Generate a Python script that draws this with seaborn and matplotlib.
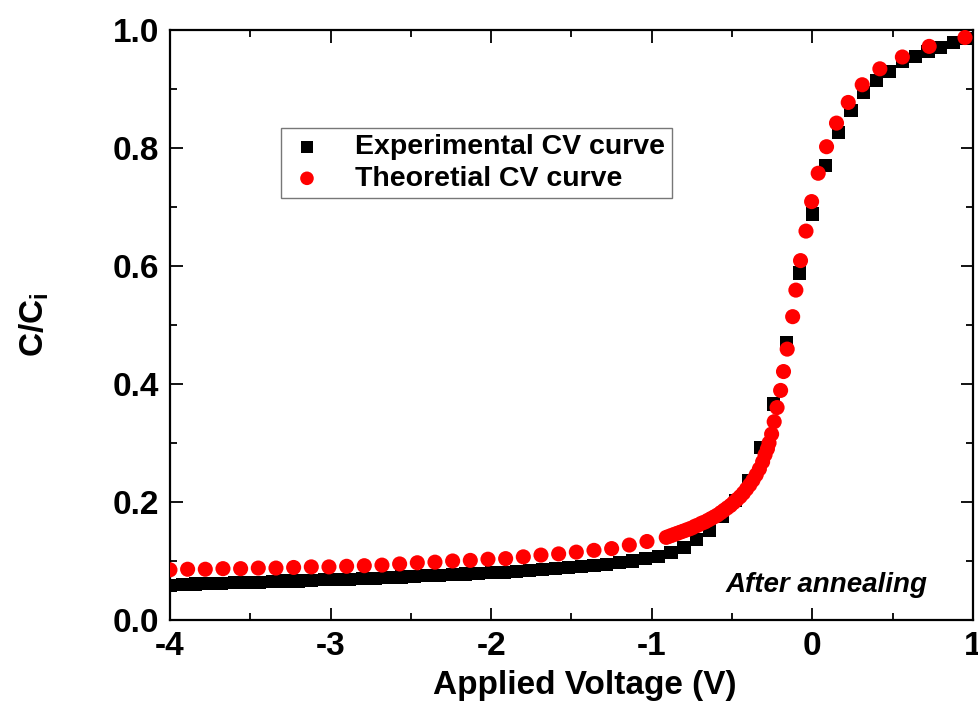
import numpy as np
import pandas as pd
import matplotlib
matplotlib.use("Agg")
import matplotlib.pyplot as plt
import seaborn as sns

# ---------------- data ----------------
exp_v = [-4.00, -3.92, -3.84, -3.76, -3.68, -3.60, -3.52, -3.44, -3.36, -3.28,
         -3.20, -3.12, -3.04, -2.96, -2.88, -2.80, -2.72, -2.64, -2.56, -2.48,
         -2.40, -2.32, -2.24, -2.16, -2.08, -2.00, -1.92, -1.84, -1.76, -1.68,
         -1.60, -1.52, -1.44, -1.36, -1.28, -1.20, -1.12, -1.04, -0.96, -0.88,
         -0.80, -0.72, -0.64, -0.56, -0.48, -0.40, -0.32, -0.24, -0.16, -0.08,
         0.00, 0.08, 0.16, 0.24, 0.32, 0.40, 0.48, 0.56, 0.64, 0.72,
         0.80, 0.88, 0.96]
exp_c = [0.059, 0.060, 0.061, 0.062, 0.062, 0.063, 0.064, 0.064, 0.065, 0.066,
         0.066, 0.067, 0.068, 0.068, 0.069, 0.070, 0.071, 0.072, 0.073, 0.074,
         0.075, 0.076, 0.077, 0.078, 0.079, 0.080, 0.081, 0.082, 0.084, 0.085,
         0.087, 0.089, 0.090, 0.092, 0.094, 0.097, 0.100, 0.104, 0.108, 0.114,
         0.123, 0.136, 0.152, 0.175, 0.203, 0.236, 0.292, 0.366, 0.470, 0.588,
         0.688, 0.770, 0.826, 0.864, 0.894, 0.914, 0.930, 0.946, 0.955, 0.963,
         0.970, 0.978, 0.985]

theo_v = [-4.00, -3.89, -3.78, -3.67, -3.56, -3.45, -3.34, -3.23, -3.12, -3.01,
          -2.90, -2.79, -2.68, -2.57, -2.46, -2.35, -2.24, -2.13, -2.02, -1.91,
          -1.80, -1.69, -1.58, -1.47, -1.36, -1.25, -1.14, -1.03,
          -0.91, -0.89, -0.87, -0.85, -0.83, -0.81, -0.79, -0.77, -0.75, -0.73,
          -0.71, -0.69, -0.67, -0.65, -0.63, -0.61, -0.59, -0.57, -0.55, -0.53,
          -0.51, -0.49, -0.47, -0.45, -0.43, -0.41, -0.39, -0.37, -0.35, -0.33,
          -0.31, -0.295, -0.28,
          -0.27, -0.254, -0.238, -0.22, -0.198, -0.18, -0.157, -0.123, -0.103,
          -0.074, -0.04, -0.005, 0.036, 0.088, 0.15, 0.223, 0.31, 0.42, 0.56,
          0.727, 0.95]
theo_c = [0.085, 0.086, 0.086, 0.087, 0.087, 0.088, 0.088, 0.089, 0.090, 0.090,
          0.091, 0.092, 0.093, 0.095, 0.097, 0.098, 0.100, 0.101, 0.103, 0.104,
          0.107, 0.110, 0.112, 0.115, 0.118, 0.121, 0.127, 0.133,
          0.140, 0.142, 0.144, 0.146, 0.148, 0.150, 0.152, 0.154, 0.156, 0.159,
          0.161, 0.164, 0.166, 0.169, 0.172, 0.175, 0.178, 0.182, 0.186, 0.190,
          0.194, 0.199, 0.204, 0.209, 0.215, 0.222, 0.229, 0.237, 0.246, 0.256,
          0.268, 0.280, 0.290,
          0.300, 0.315, 0.336, 0.360, 0.389, 0.421, 0.459, 0.514, 0.559,
          0.609, 0.659, 0.709, 0.757, 0.802, 0.842, 0.877, 0.907, 0.934, 0.954,
          0.972, 0.987]

x_ticks = [-4, -3, -2, -1, 0, 1]
y_ticks = [0.0, 0.2, 0.4, 0.6, 0.8, 1.0]
y_tick_labels = ["0.0", "0.2", "0.4", "0.6", "0.8", "1.0"]
labels = ["Experimental CV curve", "Theoretial CV curve"]

# ---------------- style ----------------
sns.set_theme(style="ticks")
plt.rcParams['font.family'] = ['Liberation Sans', 'DejaVu Sans']
plt.rcParams['font.weight'] = 'bold'
plt.rcParams['text.color'] = 'black'
plt.rcParams['axes.labelcolor'] = 'black'
plt.rcParams['xtick.color'] = 'black'
plt.rcParams['ytick.color'] = 'black'
plt.rcParams['mathtext.fontset'] = 'custom'
plt.rcParams['mathtext.rm'] = 'Liberation Sans:bold'
plt.rcParams['mathtext.bf'] = 'Liberation Sans:bold'
plt.rcParams['mathtext.it'] = 'Liberation Sans:bold'

fig = plt.figure(figsize=(9.79, 7.11), dpi=100)
ax = fig.add_axes([0.1736, 0.128, 0.8203, 0.830])

df_exp = pd.DataFrame({"V": exp_v, "C": exp_c})
df_theo = pd.DataFrame({"V": theo_v, "C": theo_c})

sns.scatterplot(data=df_exp, x="V", y="C", ax=ax, marker="s", s=90,
                color="black", edgecolor="none", linewidth=0, label=labels[0],
                zorder=3)
sns.scatterplot(data=df_theo, x="V", y="C", ax=ax, marker="o", s=118,
                color="#ff0000", edgecolor="none", linewidth=0, label=labels[1],
                zorder=4)

ax.set_xlim(-4, 1)
ax.set_ylim(0, 1)
ax.set_xticks(x_ticks)
ax.set_xticklabels([str(t) for t in x_ticks])
ax.set_yticks(y_ticks)
ax.set_yticklabels(y_tick_labels)
ax.xaxis.set_minor_locator(matplotlib.ticker.MultipleLocator(0.5))
ax.yaxis.set_minor_locator(matplotlib.ticker.MultipleLocator(0.1))
ax.tick_params(which="both", direction="in", top=True, right=True,
               labelsize=24, width=1.3, colors="black")
ax.tick_params(which="major", length=9, pad=8)
ax.tick_params(which="minor", length=5)
for lab in ax.get_xticklabels() + ax.get_yticklabels():
    lab.set_fontweight("bold")
for sp in ax.spines.values():
    sp.set_linewidth(1.6)
    sp.set_color("black")

ax.set_xlabel("Applied Voltage (V)", fontsize=24, fontweight="bold")
ax.set_ylabel(r"C/C$_{\mathbf{i}}$", fontsize=24, fontweight="bold")
ax.xaxis.set_label_coords(0.517, -0.084)
ax.yaxis.set_label_coords(-0.148, 0.5)

ax.text(0.09, 0.059, "After annealing", fontsize=20, fontweight="bold",
        fontstyle="italic", ha="center", va="center")

leg = ax.legend(loc="upper left", bbox_to_anchor=(0.138, 0.834),
                borderaxespad=0, frameon=True, fancybox=False,
                prop={"size": 20.5, "weight": "bold"}, handletextpad=1.0,
                borderpad=0.22, labelspacing=0.2, handlelength=1.4,
                markerscale=0.9)
leg.get_frame().set_edgecolor("#555555")
leg.get_frame().set_linewidth(1.0)

fig.savefig("out.png", dpi=100, facecolor="white")
